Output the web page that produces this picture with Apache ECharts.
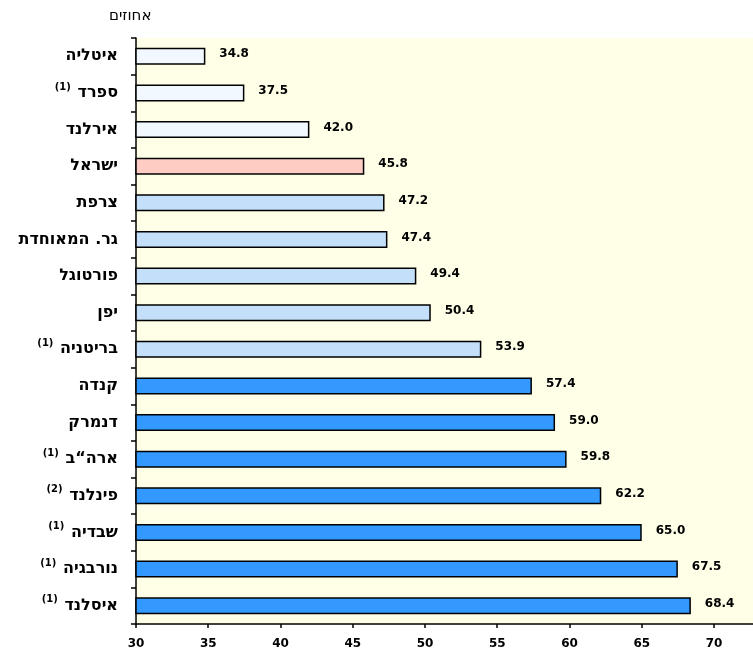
<!DOCTYPE html>
<html>
<head>
<meta charset="utf-8">
<script src="https://cdn.jsdelivr.net/npm/echarts@6/dist/echarts.min.js"></script>
<style>
  html, body { margin: 0; padding: 0; background: #fff; }
  #chart { width: 753px; height: 655px; }
</style>
</head>
<body>
<div id="chart"></div>
<script>
// countries, top to bottom
const countries = ['איטליה', 'ספרד', 'אירלנד', 'ישראל', 'צרפת', 'גר. המאוחדת', 'פורטוגל', 'יפן',
  'בריטניה', 'קנדה', 'דנמרק', 'ארה“ב', 'פינלנד', 'שבדיה', 'נורבגיה', 'איסלנד']
// footnote markers next to names
const notes = ['', '1', '', '', '', '', '', '', '1', '', '', '1', '2', '1', '1', '1']
// percent values
const values = [34.8, 37.5, 42.0, 45.8, 47.2, 47.4, 49.4, 50.4, 53.9, 57.4, 59.0, 59.8, 62.2, 65.0, 67.5, 68.4]
// colour group for each bar
const groups = ['low', 'low', 'low', 'israel', 'mid', 'mid', 'mid', 'mid', 'mid',
  'high', 'high', 'high', 'high', 'high', 'high', 'high']
const xTicks = [30, 35, 40, 45, 50, 55, 60, 65, 70]

const groupColor = {
    low: '#F2F8FF',
    israel: '#FFCCC4',
    mid: '#C4DFFA',
    high: '#3399FF'
}

const chart = echarts.init(document.getElementById('chart'))

const option = {
    backgroundColor: '#fff',
    title: {
        text: 'אחוזים',
        left: 104,
        top: 4,
        textStyle: {
            fontFamily: 'DejaVu Sans',
            fontSize: 15,
            fontWeight: 'normal',
            color: '#000'
        }
    },
    grid: {
        left: 136,
        right: 0,
        top: 38,
        bottom: 31,
        show: true,
        backgroundColor: '#FFFFE8',
        borderWidth: 0
    },
    xAxis: {
        type: 'value',
        min: 30,
        max: 72.7,
        interval: 5,
        splitLine: { show: false },
        axisLine: { show: true, lineStyle: { color: '#000', width: 1.5 } },
        axisTick: { show: true, length: 4, lineStyle: { color: '#000', width: 1.5 } },
        axisLabel: {
            showMaxLabel: false,
            margin: 14,
            color: '#000',
            fontFamily: 'DejaVu Sans',
            fontWeight: 'bold',
            fontSize: 12,
            formatter: (v) => (xTicks.indexOf(v) >= 0 ? String(v) : '')
        }
    },
    yAxis: {
        type: 'category',
        inverse: true,
        data: countries,
        axisLine: { show: true, lineStyle: { color: '#000', width: 1.5 } },
        axisTick: { show: true, length: 5, lineStyle: { color: '#000', width: 1.5 } },
        axisLabel: {
            margin: 18,
            color: '#000',
            formatter: (v, i) => {
                const n = notes[i]
                return n ? '{sup|(' + n + ')}  {name|' + v + '}' : '{name|' + v + '}'
            },
            rich: {
                name: {
                    fontFamily: 'DejaVu Sans',
                    fontWeight: 'bold',
                    fontSize: 16,
                    color: '#000'
                },
                sup: {
                    fontFamily: 'DejaVu Sans',
                    fontWeight: 'bold',
                    fontSize: 10,
                    color: '#000',
                    padding: [0, 0, 12, 0]
                }
            }
        }
    },
    series: [
        {
            type: 'bar',
            barWidth: 17,
            data: values.map((v, i) => ({
                value: v,
                itemStyle: { color: groupColor[groups[i]] }
            })),
            itemStyle: {
                borderColor: '#000',
                borderWidth: 1.5
            },
            label: {
                show: true,
                position: 'right',
                distance: 14,
                offset: [0, -2],
                color: '#000',
                fontFamily: 'DejaVu Sans',
                fontWeight: 'bold',
                fontSize: 12,
                formatter: (p) => p.value.toFixed(1)
            },
            animation: false
        }
    ]
}

chart.setOption(option)
</script>
</body>
</html>
